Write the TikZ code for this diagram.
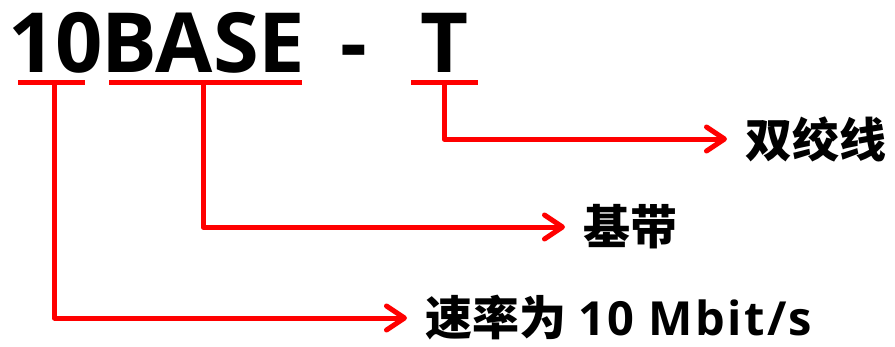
\documentclass[tikz,border=0pt]{standalone}
\usepackage{fontspec}
\setmainfont{Open Sans}
\newfontfamily\cjk{Noto Sans CJK SC}
\usetikzlibrary{arrows.meta}

\begin{document}
\begin{tikzpicture}[
  x=1pt, y=-1pt,
  every node/.style={inner sep=0pt},
  word/.style={font=\fontsize{83}{83}\selectfont\bfseries, anchor=base},
  lbl/.style={font=\fontsize{47}{47}\selectfont\bfseries, anchor=west, inner xsep=18pt},
  bar/.style={draw=red, line width=5pt},
  link/.style={draw=red, line width=5pt, line join=round,
    -{Straight Barb[length=18pt, width=24pt, line cap=round, line join=round]}}]

  \useasboundingbox (0,0) rectangle (895,346);

  % ---- code letters -------------------------------------------------------
  \node[word] (ten)  at (55.5,72)  {10};
  \node[word] (base) at (203.5,72) {BASE};
  \node[word] (hyph) at (353.5,72) {-};
  \node[word] (tee)  at (444.5,72) {T};

  % ---- meanings -----------------------------------------------------------
  \node[lbl] (twist) at (727,139) {\cjk\bfseries 双绞线};
  \node[lbl] (band)  at (565,227) {\cjk\bfseries 基带};
  \node[lbl] (rate)  at (407,318) {{\cjk\bfseries 速率为} {\addfontfeature{LetterSpace=5}10 Mbit/s}};

  % ---- underlines ---------------------------------------------------------
  \coordinate (tenL)  at (18,82.5);   \coordinate (tenR)  at (85,82.5);
  \coordinate (baseL) at (109,82.5);  \coordinate (baseR) at (302,82.5);
  \coordinate (teeL)  at (411,82.5);  \coordinate (teeR)  at (478,82.5);
  \draw[bar] (tenL) -- (tenR);
  \draw[bar] (baseL) -- (baseR);
  \draw[bar] (teeL) -- (teeR);

  % ---- arrows -------------------------------------------------------------
  \coordinate (tenM)  at (54.5,82.5);
  \coordinate (baseM) at (203,82.5);
  \coordinate (teeM)  at (444,82.5);
  \draw[link] (teeM)  |- (twist.west);
  \draw[link] (baseM) |- (band.west);
  \draw[link] (tenM)  |- (rate.west);
\end{tikzpicture}
\end{document}
